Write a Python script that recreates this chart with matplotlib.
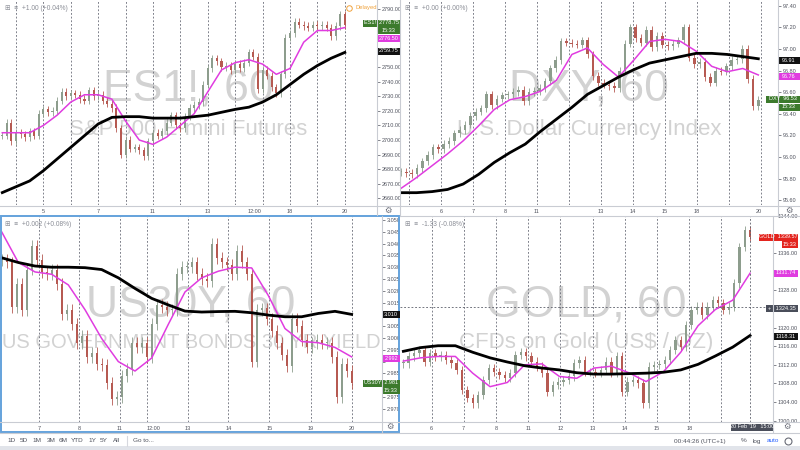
import numpy as np
import matplotlib.pyplot as plt
from matplotlib.patches import Rectangle
from matplotlib.lines import Line2D

plt.rcParams['font.family'] = ['Liberation Sans', 'DejaVu Sans']

# ---- ES1! 60 min (closes read roughly every 4 hours) ----
es_close = [2703, 2712, 2699, 2705, 2704, 2702, 2706, 2703, 2718, 2721,
            2719, 2720, 2727, 2733, 2730, 2732, 2731, 2728, 2727, 2734,
            2730, 2731, 2727, 2725, 2722, 2708, 2690, 2700, 2694, 2695,
            2693, 2689, 2699, 2705, 2703, 2706, 2712, 2717, 2710, 2708,
            2716, 2722, 2724, 2726, 2738, 2749, 2756, 2754, 2750, 2751,
            2748, 2752, 2749, 2753, 2760, 2757, 2735, 2748, 2744, 2736,
            2732, 2745, 2770, 2773, 2781, 2779, 2778, 2777, 2779, 2778,
            2779, 2777, 2771, 2778, 2786, 2778.75]
es_ma_fast = [2705, 2705, 2705, 2710, 2717, 2726, 2731, 2731, 2728, 2713,
              2700, 2697, 2702, 2710, 2718, 2733, 2748, 2753, 2755, 2752,
              2745, 2749, 2767, 2775, 2775, 2777]
es_ma_slow = [2664, 2668, 2672, 2679, 2687, 2695, 2703, 2711, 2715.5, 2716,
              2716, 2715, 2715, 2715, 2716, 2717, 2719, 2721, 2722.5, 2726,
              2731, 2738, 2745, 2751, 2756, 2760]
es_days = [3, 9, 15, 21, 27, 33, 39, 45, 51, 57, 63, 69, 75]
es_tick_pos = [9, 21, 33, 45, 55.2, 63, 75]
es_tick_lab = ['5', '7', '11', '13', '12:00', '18', '20']

# ---- DXY 60 min ----
dxy_close = [95.86, 95.85, 95.84, 95.90, 95.96, 96.02, 96.09, 96.07, 96.12, 96.15,
             96.22, 96.25, 96.30, 96.38, 96.42, 96.45, 96.58, 96.48, 96.54, 96.57,
             96.58, 96.60, 96.62, 96.52, 96.60, 96.61, 96.64, 96.70, 96.82, 96.90,
             97.07, 97.06, 97.05, 97.04, 97.08, 96.95, 96.75, 96.69, 96.67, 96.66,
             96.64, 96.80, 97.05, 97.20, 97.10, 97.06, 97.18, 97.02, 97.12, 97.04,
             97.03, 97.05, 97.08, 97.20, 96.92, 96.86, 96.88, 96.74, 96.69, 96.80,
             96.79, 96.84, 96.90, 96.91, 97.00, 96.72, 96.47, 96.53]
dxy_ma_fast = [95.71, 95.81, 95.92, 96.03, 96.15, 96.29, 96.44, 96.53, 96.56, 96.61,
               96.71, 96.95, 97.01, 96.86, 96.74, 96.90, 97.07, 97.09, 97.07, 96.98,
               96.84, 96.79, 96.82, 96.76]
dxy_ma_slow = [95.67, 95.67, 95.68, 95.70, 95.75, 95.84, 95.95, 96.04, 96.12, 96.24,
               96.35, 96.46, 96.58, 96.66, 96.74, 96.81, 96.87, 96.90, 96.93, 96.96,
               96.96, 96.95, 96.93, 96.91]
dxy_days = [1.5, 7.5, 13.5, 19.5, 25.5, 31.5, 37.5, 43.5, 49.5, 55.5, 61.5, 67.5]
dxy_tick_pos = [7.5, 13.5, 19.5, 25.5, 37.5, 43.5, 49.5, 55.5, 67.0]
dxy_tick_lab = ['6', '7', '8', '11', '13', '14', '15', '18', '20']

# ---- US30Y 60 min ----
us_close = [3.033, 3.032, 3.013, 3.023, 3.012, 3.029, 3.039, 3.033, 3.028, 3.027,
            3.029, 3.023, 3.010, 3.012, 3.006, 2.998, 3.001, 2.992, 2.9935, 2.989,
            2.9885, 2.981, 2.974, 2.975, 2.984, 2.987, 2.998, 2.996, 2.998, 2.992,
            3.006, 3.014, 3.013, 3.012, 3.012, 3.027, 3.030, 3.030, 3.032, 3.027,
            3.025, 3.024, 3.040, 3.034, 3.032, 3.031, 3.027, 3.037, 3.032, 3.027,
            2.990, 3.012, 3.0125, 3.008, 3.003, 2.998, 2.993, 2.988, 3.008, 3.005,
            2.999, 2.996, 2.998, 2.999, 2.998, 2.998, 2.992, 2.975, 2.989, 2.986,
            2.981]
us_ma_fast = [3.045, 3.032, 3.028, 3.027, 3.0225, 3.012, 2.9998, 2.990, 2.986, 2.9915,
              3.0058, 3.0195, 3.0255, 3.0283, 3.030, 3.0297, 3.018, 3.004, 2.9985, 2.998,
              2.996, 2.992]
us_ma_slow = [3.034, 3.032, 3.0305, 3.030, 3.030, 3.0298, 3.029, 3.0255, 3.021, 3.0168,
              3.014, 3.0114, 3.011, 3.0112, 3.0113, 3.0107, 3.0097, 3.009, 3.009, 3.0104,
              3.0113, 3.010]
us_days = [7.47, 15.47, 23.67, 29.13, 37.2, 45.33, 53.53, 61.87, 70]
us_tick_pos = [7.47, 15.47, 23.67, 30.3, 37.2, 45.33, 53.53, 61.87, 70]
us_tick_lab = ['7', '8', '11', '12:00', '13', '14', '15', '19', '20']

# ---- GOLD 60 min ----
gold_close = [1312.3, 1313.8, 1314.5, 1315.2, 1312.7, 1314.5, 1313.8, 1314.1, 1313.0, 1312.3,
              1310.9, 1306.6, 1304.8, 1303.7, 1305.5, 1308.7, 1311.3, 1310.5, 1309.8, 1309.1,
              1310.2, 1314.1, 1314.8, 1313.8, 1312.7, 1311.6, 1310.2, 1306.2, 1307.7, 1308.4,
              1308.7, 1309.5, 1312.3, 1313.0, 1310.5, 1310.5, 1310.2, 1310.9, 1312.7, 1310.2,
              1313.8, 1306.2, 1308.4, 1308.7, 1308.0, 1303.7, 1311.6, 1312.0, 1312.2, 1313.0,
              1315.2, 1317.3, 1315.9, 1320.6, 1323.8, 1324.5, 1322.7, 1324.5, 1326.0, 1325.2,
              1323.8, 1324.5, 1329.5, 1337.4, 1340.9, 1339.57]
gold_ma_fast = [1312.8, 1313.5, 1313.8, 1313.8, 1310.2, 1307.3, 1308.2, 1312.0, 1312.2, 1309.5,
                1309.1, 1311.3, 1311.7, 1310.3, 1308.4, 1310.5, 1314.7, 1320.4, 1323.9, 1325.9,
                1331.7]
gold_ma_slow = [1314.9, 1315.7, 1316.1, 1316.1, 1314.7, 1313.5, 1312.6, 1311.8, 1311.3, 1310.9,
                1310.3, 1310.0, 1310.0, 1310.1, 1310.2, 1310.4, 1310.9, 1312.1, 1313.9, 1315.8,
                1318.3]
gold_days = [5.3, 11.3, 17.4, 23.4, 29.4, 35.5, 41.5, 47.5, 53.6, 59.6]
gold_tick_pos = [5.3, 11.3, 17.4, 23.4, 29.4, 35.5, 41.5, 47.5, 53.6]
gold_tick_lab = ['6', '7', '8', '11', '12', '13', '14', '15', '18']
gold_cross = 1324.35

UP = '#8d9d8d'
DOWN = '#b65a52'
MAG = '#e03ce0'
TXT = '#50535e'
GRID = '#c9ccd3'

W, H = 800, 450
fig = plt.figure(figsize=(8, 4.5), dpi=100)


def fx(x):
    return x / W


def fy(y):
    return 1 - y / H


def fline(x0, y0, x1, y1, color=GRID, lw=0.8, **kw):
    fig.add_artist(Line2D([fx(x0), fx(x1)], [fy(y0), fy(y1)], color=color, lw=lw,
                          transform=fig.transFigure, **kw))


def ftext(x, y, s, size=4.6, color=TXT, ha='left', **kw):
    fig.text(fx(x), fy(y), s, fontsize=size, color=color, ha=ha, va='center', **kw)


def tag(x0, x1, y, s, fc, tc='white'):
    h = 7
    fig.add_artist(Rectangle((fx(x0), fy(y + h / 2)), (x1 - x0) / W, h / H,
                             transform=fig.transFigure, facecolor=fc, edgecolor='none'))
    ftext((x0 + x1) / 2, y, s, size=4.0, color=tc, ha='center')


def panel(box, closes, fast, slow, ylim, xlim, yticks, fmt, hidden, days, tpos, tlab,
          wick, title, sub, base, subsize=16):
    x0, y0, x1, y1 = box
    ax = fig.add_axes([fx(x0), fy(y1), (x1 - x0) / W, (y1 - y0) / H])
    for s in ax.spines.values():
        s.set_visible(False)
    c = np.asarray(closes, float)
    o = np.r_[c[0], c[:-1]]
    x = np.arange(len(c))
    col = np.where(c >= o, UP, DOWN)
    ax.vlines(x, np.minimum(o, c) - wick, np.maximum(o, c) + wick, colors=col, lw=0.6, zorder=3)
    body = np.maximum(np.abs(c - o), (ylim[1] - ylim[0]) * 0.005)
    ax.bar(x, body, bottom=np.minimum(o, c), width=0.45, color=col, zorder=3)
    ax.plot(np.linspace(0, len(c) - 1, len(fast)), fast, color=MAG, lw=1.1, zorder=4)
    ax.plot(np.linspace(0, len(c) - 1, len(slow)), slow, color='black', lw=2.0, zorder=5)
    for d in days:
        ax.axvline(d, color='#6a6d78', lw=0.6, ls=(0, (2.2, 2.2)), zorder=1)
    ax.text(0.5, base[0], title, transform=ax.transAxes, ha='center', va='baseline',
            fontsize=32, color='#d2d2d2', zorder=0, clip_on=True)
    ax.text(0.5, base[1], sub, transform=ax.transAxes, ha='center', va='baseline',
            fontsize=subsize, color='#d2d2d2', zorder=0, clip_on=True)
    ax.set_xlim(*xlim)
    ax.set_ylim(*ylim)
    ax.yaxis.tick_right()
    ax.set_yticks(yticks)
    labs = [fmt.format(v) for v in yticks]
    ax.set_yticklabels(['' if lb in hidden else lb for lb in labs])
    ax.set_xticks(tpos)
    ax.set_xticklabels(tlab)
    ax.tick_params(axis='y', labelsize=4.0, colors=TXT, length=2, width=0.5, pad=1.2)
    ax.tick_params(axis='x', labelsize=4.0, colors=TXT, length=0, pad=3.0)
    return ax


panel((0, 0, 377, 205), es_close, es_ma_fast, es_ma_slow, (2655.5, 2795.9), (-0.5, 82.05),
      np.arange(2660, 2791, 10), '{:.2f}', ['2760.00', '2770.00', '2780.00'],
      es_days, es_tick_pos, es_tick_lab, 2.5,
      'ES1!, 60', 'S&P 500 E-mini Futures', (0.512, 0.341))
panel((400, 0, 778, 205), dxy_close, dxy_ma_fast, dxy_ma_slow, (95.556, 97.454), (-0.19, 70.69),
      np.round(np.arange(95.6, 97.41, 0.2), 2), '{:.2f}', [], dxy_days, dxy_tick_pos,
      dxy_tick_lab, 0.035, 'DXY, 60', 'U.S. Dollar Currency Index', (0.512, 0.341))
panel((0, 216, 382, 422), us_close, us_ma_fast, us_ma_slow, (2.9644, 3.0517), (-0.33, 76.07),
      np.round(np.arange(2.970, 3.0501, 0.005), 3), '{:.3f}', ['3.010', '2.990', '2.980'],
      us_days, us_tick_pos, us_tick_lab, 0.0025, 'US30Y, 60',
      'US GOVERNMENT BONDS 30 YR YIELD', (0.510, 0.359), subsize=14.5)
ax_g = panel((400, 216, 773, 422), gold_close, gold_ma_fast, gold_ma_slow, (1299.7, 1344.0),
             (-0.63, 69.3), np.arange(1300, 1345, 4), '{:.2f}',
             ['1340.00', '1332.00', '1324.00'], gold_days, gold_tick_pos,
             gold_tick_lab, 0.9, 'GOLD, 60', 'CFDs on Gold (US$ / OZ)', (0.510, 0.359))
ax_g.axhline(gold_cross, color='#5d606b', lw=0.6, ls=(0, (2.2, 2.2)), zorder=6)
ax_g.axvline(len(gold_close) - 1, color='#5d606b', lw=0.6, ls=(0, (2.2, 2.2)), zorder=6)

# frame lines
fline(0, 205.5, 800, 205.5)
fline(377, 0, 377, 215)
fline(778, 0, 778, 215)
fline(400, 0, 400, 216)
fline(400, 215.5, 800, 215.5)
fline(0, 422, 800, 422)
fline(382, 216, 382, 432)
fline(773, 216, 773, 432)
fline(0, 432.5, 800, 432.5)
fig.add_artist(Rectangle((fx(0.8), fy(432)), 398.5 / W, 216.5 / H, transform=fig.transFigure,
                         facecolor='none', edgecolor='#64a2dc', lw=1.4))
fig.add_artist(Rectangle((0, 0), 1, 4 / H, transform=fig.transFigure,
                         facecolor='#e1e4ea', edgecolor='none'))

# legends
ftext(5, 8, '⊞  ≡  +1.00 (+0.04%)', size=4.8, color='#8a8d96')
ftext(405, 8, '⊞  ≡  +0.00 (+0.00%)', size=4.8, color='#8a8d96')
ftext(5, 225, '⊞  ≡  +0.002 (+0.08%)', size=4.8, color='#8a8d96')
ftext(405, 224, '⊞  ≡  -1.33 (-0.08%)', size=4.8, color='#8a8d96')
fig.add_artist(Line2D([fx(349)], [fy(7.5)], marker='o', ms=4, mfc='none', mec='#f0a23c',
                      mew=0.7, transform=fig.transFigure))
ftext(355, 7.5, 'Delayed', size=4.2, color='#f0a23c')

# gears
for gx, gy in [(388, 211), (789, 211), (390, 427), (787, 427)]:
    ftext(gx, gy, '⚙', size=6, color='#6a6d78', ha='center')

# price tags
tag(363, 400, 23, 'ES1!  2778.75', '#3c7a2c')
tag(377, 400, 30, '15:33', '#3c7a2c')
tag(377, 400, 38, '2776.50', MAG)
tag(377, 400, 51, '2759.75', '#111111')
tag(778, 800, 60, '96.91', '#111111')
tag(778, 800, 76, '96.76', MAG)
tag(766, 800, 99, 'DXY  96.53', '#3c7a2c')
tag(778, 800, 107, '15:33', '#3c7a2c')
tag(382, 400, 314, '3.010', '#111111')
tag(382, 400, 358, '2.992', MAG)
tag(363, 400, 383, 'US30Y  2.981', '#3c7a2c')
tag(382, 400, 390, '15:33', '#3c7a2c')
tag(759, 798, 237, 'GOLD  1339.57', '#e3241e')
tag(782, 798, 244, '15:33', '#e3241e')
tag(773, 798, 273, '1331.74', MAG)
tag(766, 798, 308, '+   1324.35', '#4a4e5a')
tag(773, 798, 336, '1318.31', '#111111')
tag(731, 773, 427, "20 Feb '19   15:00", '#4a4e5a')

# bottom toolbar
for s, bx in [('1D', 12), ('5D', 24), ('1M', 37), ('3M', 51), ('6M', 63),
              ('YTD', 77), ('1Y', 92), ('5Y', 104), ('All', 116)]:
    ftext(bx, 441, s, size=4.6, color='#50535e', ha='center')
fline(127, 436, 127, 446, color='#d6d8de')
ftext(133, 441, 'Go to...', size=4.6, color='#50535e')
ftext(700, 441, '00:44:26 (UTC+1)', size=4.6, color='#50535e', ha='center')
ftext(744, 441, '%', size=4.6, color='#50535e', ha='center')
ftext(757, 441, 'log', size=4.6, color='#50535e', ha='center')
ftext(773, 441, 'auto', size=4.6, color='#2962ff', ha='center')
fig.add_artist(Line2D([fx(788)], [fy(441)], marker='o', ms=5, mfc='none', mec='#6a6d78',
                      mew=0.8, ls='none', transform=fig.transFigure))

fig.savefig('out.png', dpi=100)
